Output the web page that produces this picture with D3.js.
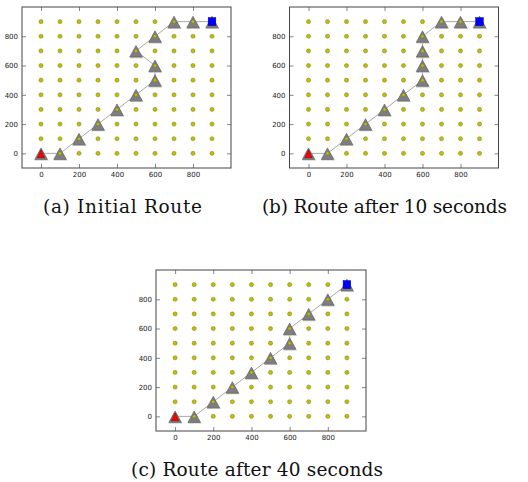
<!DOCTYPE html>
<html><head><meta charset="utf-8">
<script src="https://cdn.jsdelivr.net/npm/d3@7"></script>
<style>body{margin:0;background:#fff;} svg{display:block;}</style>
</head><body>
<svg id="c" width="528" height="482"></svg>
<script>
const gridX = [0,100,200,300,400,500,600,700,800,900];
const gridY = [0,100,200,300,400,500,600,700,800,900];
const tickValues = [0,200,400,600,800];
const routeA = [[0,0],[100,0],[200,100],[300,200],[400,300],[500,400],[600,500],[600,600],[500,700],[600,800],[700,900],[800,900],[900,900]];
const routeB = [[0,0],[100,0],[200,100],[300,200],[400,300],[500,400],[600,500],[600,600],[600,700],[600,800],[700,900],[800,900],[900,900]];
const routeC = [[0,0],[100,0],[200,100],[300,200],[400,300],[500,400],[600,500],[600,600],[700,700],[800,800],[900,900]];
const startPt = [0,0];
const endPt = [900,900];
const captions = ["(a) Initial Route","(b) Route after 10 seconds","(c) Route after 40 seconds"];

const svg = d3.select("#c");

const panels = [
  {route: routeA, l:22, r:231, t:7, b:168, cap:captions[0], cx:122.5, cy:213, len:159},
  {route: routeB, l:289.5, r:498.5, t:7, b:168, cap:captions[1], cx:384.5, cy:213, len:245},
  {route: routeC, l:156, r:366, t:270, b:431, cap:captions[2], cx:257, cy:476, len:252}
];

panels.forEach(p => {
  const x = d3.scaleLinear().domain([-100,1000]).range([p.l,p.r]);
  const y = d3.scaleLinear().domain([-100,1000]).range([p.b,p.t]);
  const g = svg.append("g");
  g.append("rect").attr("x",p.l).attr("y",p.t).attr("width",p.r-p.l).attr("height",p.b-p.t)
    .attr("fill","#fff");
  const ax = g.append("g").attr("transform",`translate(0,${p.b})`)
    .call(d3.axisBottom(x).tickValues(tickValues).tickSize(-4).tickPadding(4).tickFormat(d3.format("d")));
  const ay = g.append("g").attr("transform",`translate(${p.l},0)`)
    .call(d3.axisLeft(y).tickValues(tickValues).tickSize(-4).tickPadding(4).tickFormat(d3.format("d")));
  const axT = g.append("g").attr("transform",`translate(0,${p.t})`)
    .call(d3.axisTop(x).tickValues(tickValues).tickSize(-4).tickFormat(""));
  const ayR = g.append("g").attr("transform",`translate(${p.r},0)`)
    .call(d3.axisRight(y).tickValues(tickValues).tickSize(-4).tickFormat(""));
  [ax,ay,axT,ayR].forEach(a => {
    a.select(".domain").remove();
    a.selectAll("line").attr("stroke","#333").attr("stroke-width",0.6);
    a.selectAll("text").attr("font-family","DejaVu Sans").attr("font-size",7).attr("fill","#222");
  });
  const pts = [];
  gridX.forEach(gx => gridY.forEach(gy => pts.push([gx,gy])));
  g.append("g").selectAll("circle").data(pts).join("circle")
    .attr("cx",d=>x(d[0])).attr("cy",d=>y(d[1])).attr("r",2.1)
    .attr("fill","#bfbf00").attr("stroke","#6a6a20").attr("stroke-width",0.4);
  g.append("path").datum(p.route)
    .attr("d", d3.line().x(d=>x(d[0])).y(d=>y(d[1])))
    .attr("fill","none").attr("stroke","#a8a8a8").attr("stroke-width",1);
  const tri = (cx,cy,w,h) => `M${cx},${cy-h/2}L${cx+w/2},${cy+h/2}L${cx-w/2},${cy+h/2}Z`;
  g.append("g").selectAll("path.sh").data(p.route).join("path")
    .attr("d",d=>tri(x(d[0])+0.5,y(d[1])+1.5,14,11.5))
    .attr("fill","#c4c4c4");
  g.append("g").selectAll("path.tr").data(p.route).join("path")
    .attr("d",d=>tri(x(d[0]),y(d[1])+0.3,12.5,11.5))
    .attr("fill","#7a7a7a").attr("stroke","#5a5a5a").attr("stroke-width",0.6).attr("fill-opacity",0.95);
  g.append("g").selectAll("circle").data(p.route).join("circle")
    .attr("cx",d=>x(d[0])).attr("cy",d=>y(d[1])).attr("r",1.6)
    .attr("fill","#bfbf00").attr("stroke","#6a6a20").attr("stroke-width",0.3);
  g.append("path").attr("d",tri(x(startPt[0]),y(startPt[1])+0.3,7.5,8))
    .attr("fill","#ff0000").attr("stroke","#800000").attr("stroke-width",0.5);
  g.append("rect").attr("x",x(endPt[0])-3.8).attr("y",y(endPt[1])-4).attr("width",7.6).attr("height",8)
    .attr("fill","#0000ff").attr("stroke","#000080").attr("stroke-width",0.5);
  g.append("rect").attr("x",p.l).attr("y",p.t).attr("width",p.r-p.l).attr("height",p.b-p.t)
    .attr("fill","none").attr("stroke","#444").attr("stroke-width",1);
  svg.append("text").attr("x",p.cx).attr("y",p.cy).attr("text-anchor","middle")
    .attr("font-family","DejaVu Serif").attr("font-size",18.5).attr("fill","#111")
    .attr("textLength",p.len).attr("lengthAdjust","spacing")
    .text(p.cap);
});
</script>
</body></html>
